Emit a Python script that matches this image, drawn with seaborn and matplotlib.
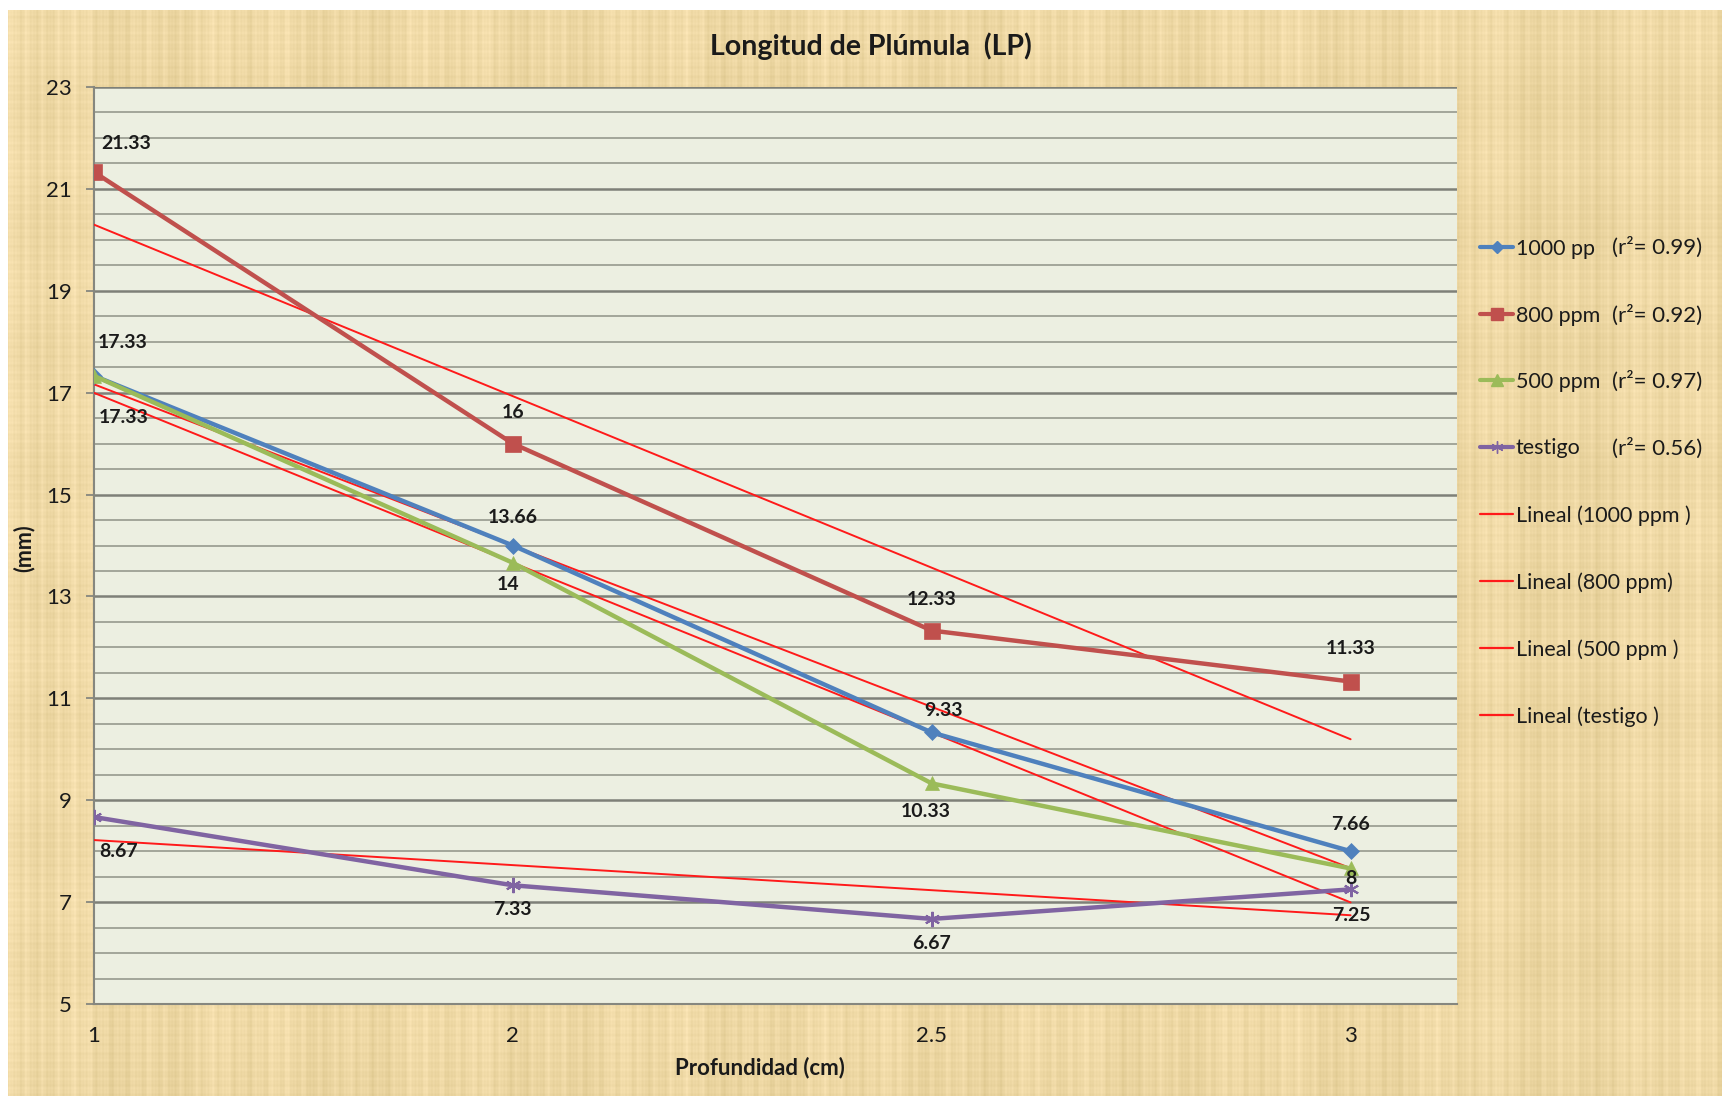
import numpy as np
import pandas as pd
import matplotlib
matplotlib.use("Agg")
import matplotlib.pyplot as plt
from matplotlib.lines import Line2D
import seaborn as sns

# ---- data -------------------------------------------------------------
depth_labels = ["1", "2", "2.5", "3"]
ppm_1000 = [17.33, 14.0, 10.33, 8.0]
ppm_800 = [21.33, 16.0, 12.33, 11.33]
ppm_500 = [17.33, 13.66, 9.33, 7.66]
testigo = [8.67, 7.33, 6.67, 7.25]

series_names = ["1000 pp", "800 ppm", "500 ppm", "testigo"]
trend_names = ["Lineal (1000 ppm )", "Lineal (800 ppm)", "Lineal (500 ppm )", "Lineal (testigo )"]
r2_labels = ["(r\u00b2= 0.99)", "(r\u00b2= 0.92)", "(r\u00b2= 0.97)", "(r\u00b2= 0.56)"]

# label offsets in pixels (dx to the right, dy upwards) from each point
label_offsets = {
    "1000 pp": [(29, 33), (-5, -39), (-6, -79), (0, -27)],
    "800 ppm": [(32, 29), (0, 31), (0, 31), (0, 33)],
    "500 ppm": [(30, -42), (0, 45), (12, 73), (0, 44)],
    "testigo": [(25, -34), (0, -24), (0, -25), (1, -26)],
}

colors = {"1000 pp": "#4F81BD", "800 ppm": "#C0504D", "500 ppm": "#9BBB59", "testigo": "#8064A2"}
markers = {"1000 pp": "D", "800 ppm": "s", "500 ppm": "^", "testigo": (6, 2, 0)}
msizes = {"1000 pp": 8, "800 ppm": 11, "500 ppm": 10, "testigo": 11}
trend_color = "#FF1A1A"

values = {"1000 pp": ppm_1000, "800 ppm": ppm_800, "500 ppm": ppm_500, "testigo": testigo}

# ---- figure -----------------------------------------------------------
sns.set_theme(style="white")
plt.rcParams["font.family"] = ["Lato", "DejaVu Sans"]

W, H, DPI = 1722, 1096, 100
PX = 72.0 / DPI
fig = plt.figure(figsize=(W / DPI, H / DPI), dpi=DPI, facecolor="white")

# papyrus-like background
bg_ax = fig.add_axes([8 / W, 0, 1 - 8 / W, 1 - 10 / H], zorder=-10)
hh, ww = 1086, 1714
yy, xx = np.mgrid[0:hh, 0:ww]
base = np.array([238, 216, 164], dtype=float) / 255.0
streak_v = (0.014 * np.sin(xx * 0.41) + 0.010 * np.sin(xx * 0.093 + 1.3)
            + 0.010 * np.sin(xx * 0.77 + 0.7) + 0.008 * np.sin(xx * 1.91)
            + 0.008 * np.sin(xx * 0.031 + 0.4))
streak_h = (0.008 * np.sin(yy * 0.63 + 0.4) + 0.006 * np.sin(yy * 1.37 + 2.0)
            + 0.006 * np.sin(yy * 0.051))
shade = streak_v + streak_h
tex = np.clip(base[None, None, :] + shade[..., None] * np.array([1.0, 1.0, 1.3]), 0, 1)
bg_ax.imshow(tex, aspect="auto", interpolation="bilinear", extent=[0, 1, 0, 1])
bg_ax.set_axis_off()

left, right, top, bottom = 94, 1457, 87, 1004
ax = fig.add_axes([left / W, 1 - bottom / H, (right - left) / W, (bottom - top) / H])
ax.set_facecolor("#ECEFE1")

pos = np.arange(len(depth_labels))

# minor and major horizontal grid
ax.set_ylim(5, 23)
ax.set_xlim(0, 3.254)
ax.set_yticks(np.arange(5, 23.1, 2))
ax.set_yticks(np.arange(5, 23.1, 0.5), minor=True)
ax.yaxis.grid(True, which="minor", color="#A3A69A", lw=1.4, zorder=0)
ax.yaxis.grid(True, which="major", color="#7E8078", lw=1.8, zorder=0)
ax.xaxis.grid(False)
ax.set_axisbelow(True)

# trend lines
for name in series_names:
    sns.regplot(x=pos, y=values[name], ax=ax, ci=None, scatter=False, truncate=True,
                color=trend_color, line_kws=dict(lw=1.4, zorder=3))

# series
for name in series_names:
    df = pd.DataFrame({"x": pos, "y": values[name]})
    sns.lineplot(data=df, x="x", y="y", ax=ax, color=colors[name], lw=3.2,
                 marker=markers[name], markersize=msizes[name],
                 markeredgecolor=colors[name], markeredgewidth=1.5 if name == "testigo" else 0.5,
                 zorder=4)

# data labels
for name in series_names:
    for i, v in enumerate(values[name]):
        dx, dy = label_offsets[name][i]
        ax.annotate(f"{v:g}", (pos[i], v), xytext=(dx * PX, dy * PX), textcoords="offset points",
                    ha="center", va="center", fontsize=14, fontweight="bold",
                    color="#1A1A1A", zorder=6)

# axes styling
for s in ["top", "right"]:
    ax.spines[s].set_visible(False)
for s in ["left", "bottom"]:
    ax.spines[s].set_color("#86877F")
    ax.spines[s].set_linewidth(1.5)
ax.set_xticks(pos)
ax.set_xticklabels(depth_labels)
ax.tick_params(axis="x", length=0, pad=16, labelsize=16, labelcolor="#1A1A1A")
ax.tick_params(axis="y", which="major", length=6, width=1.3, color="#86877F", pad=10,
               labelsize=16, labelcolor="#1A1A1A", left=True)
ax.tick_params(axis="y", which="minor", length=0)
ax.set_xlabel("")
ax.set_ylabel("")

fig.text(871 / W, 1 - 46 / H, "Longitud de Pl\u00famula  (LP)", ha="center", va="center",
         fontsize=20.5, fontweight="bold", color="#1A1A1A")
fig.text(760 / W, 1 - 1068 / H, "Profundidad (cm)", ha="center", va="center",
         fontsize=16, fontweight="bold", color="#1A1A1A")
fig.text(24 / W, 1 - 548 / H, "(mm)", ha="center", va="center", rotation=90,
         fontsize=15.5, fontweight="bold", color="#1A1A1A")

# legend
handles = []
for name in series_names:
    handles.append(Line2D([], [], color=colors[name], lw=3, marker=markers[name],
                          markersize=msizes[name] * 0.8, markeredgecolor=colors[name]))
for _ in trend_names:
    handles.append(Line2D([], [], color=trend_color, lw=1.6))
leg = fig.legend(handles, series_names + trend_names, loc="upper left",
                 bbox_to_anchor=(1480 / W, 1 - 239 / H), frameon=False,
                 fontsize=15.5, labelspacing=2.16, handlelength=1.55, handletextpad=0.12,
                 borderaxespad=0, borderpad=0)
for t in leg.get_texts():
    t.set_color("#1A1A1A")

legend_y = [247, 315, 381, 448]
for y, r2 in zip(legend_y, r2_labels):
    fig.text(1612 / W, 1 - y / H, r2, ha="left", va="center", fontsize=16, color="#1A1A1A")

fig.savefig("out.png", dpi=DPI, facecolor="white")
